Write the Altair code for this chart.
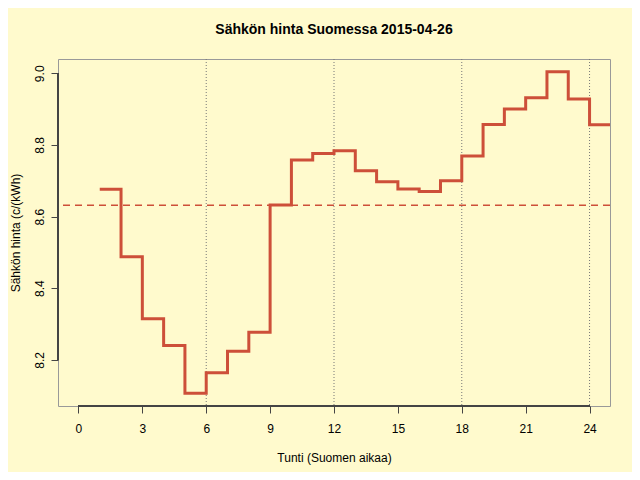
import altair as alt
import pandas as pd

# ---- data ----
HOURS = list(range(1, 25))
PRICES = [8.676, 8.488, 8.315, 8.240, 8.107, 8.164, 8.224, 8.277,
          8.632, 8.758, 8.776, 8.784, 8.728, 8.697, 8.677, 8.670,
          8.700, 8.769, 8.857, 8.900, 8.932, 9.004, 8.928, 8.856]
X_TICKS = [0, 3, 6, 9, 12, 15, 18, 21, 24]
Y_TICKS = [8.2, 8.4, 8.6, 8.8, 9.0]
GUIDE_HOURS = [6, 12, 18, 24]
TITLE = "Sähkön hinta Suomessa 2015-04-26"
X_TITLE = "Tunti (Suomen aikaa)"
Y_TITLE = "Sähkön hinta (c/(kWh)"

FONT = "Liberation Sans"
BG = "#FFFACD"
LINE_COLOR = "#CD4F39"
W, H = 552, 347

hourly = pd.DataFrame({"hour": HOURS, "price": PRICES})
step = pd.DataFrame({"hour": HOURS + [HOURS[-1] + 1],
                     "price": PRICES + [PRICES[-1]]})
guides = pd.DataFrame({"hour": GUIDE_HOURS})

# R-style 4% axis extension
x_lo, x_hi = X_TICKS[0], X_TICKS[-1]
x_pad = 0.04 * (x_hi - x_lo)
y_lo, y_hi = min(PRICES), max(PRICES)
y_pad = 0.04 * (y_hi - y_lo)
x_scale = alt.Scale(domain=[x_lo - x_pad, x_hi + x_pad], nice=False, zero=False)
y_scale = alt.Scale(domain=[y_lo - y_pad, y_hi + y_pad], nice=False, zero=False)

x_axis = alt.Axis(values=X_TICKS, grid=False, domain=False, tickSize=7,
                  tickColor="#444444", tickWidth=1, labelPadding=19,
                  labelBaseline="alphabetic", labelFontSize=12, labelColor="black",
                  labelFont=FONT, labelFlush=False, labelOverlap=False,
                  title=X_TITLE, titleFont=FONT, titleFontSize=12,
                  titleFontWeight="normal", titleColor="black",
                  titleX=W / 2, titleY=55, titleAlign="center",
                  titleBaseline="alphabetic")
y_axis = alt.Axis(values=Y_TICKS, format=".1f", grid=False, domain=False,
                  tickSize=7, tickColor="#444444", tickWidth=1,
                  labelAngle=-90, labelAlign="center", labelBaseline="alphabetic",
                  labelPadding=8, labelFontSize=12, labelColor="black",
                  labelFont=FONT, labelFlush=False, labelOverlap=False,
                  title=Y_TITLE, titleFont=FONT, titleFontSize=12,
                  titleFontWeight="normal", titleColor="black",
                  titleAngle=-90, titleX=-39, titleY=H / 2, titleAlign="center",
                  titleBaseline="alphabetic")

line = alt.Chart(step).mark_line(
    interpolate="step-after", color=LINE_COLOR, strokeWidth=3, clip=True
).encode(
    x=alt.X("hour:Q", scale=x_scale, axis=x_axis),
    y=alt.Y("price:Q", scale=y_scale, axis=y_axis),
)

mean_rule = alt.Chart(hourly).mark_rule(
    color=LINE_COLOR, strokeWidth=1.5, strokeDash=[7, 5]
).encode(y=alt.Y("mean(price):Q"))

vguides = alt.Chart(guides).mark_rule(
    color="#777777", strokeWidth=1, strokeDash=[1, 2]
).encode(x=alt.X("hour:Q"))

x_domain_line = alt.Chart(hourly).mark_rule(color="#444444", strokeWidth=1).encode(
    x=alt.datum(X_TICKS[0]), x2=alt.datum(X_TICKS[-1]), y=alt.value(H))
y_domain_line = alt.Chart(hourly).mark_rule(color="#444444", strokeWidth=1).encode(
    y=alt.datum(Y_TICKS[0]), y2=alt.datum(Y_TICKS[-1]), x=alt.value(0))

chart = alt.layer(vguides, mean_rule, line, x_domain_line, y_domain_line).properties(
    width=W, height=H,
    background=BG,
    padding={"left": 50, "top": 51, "right": 22, "bottom": 66},
    autosize=alt.AutoSizeParams(type="none"),
    title=alt.TitleParams(text=TITLE, font=FONT, fontSize=14, fontWeight="bold",
                          color="black", anchor="middle", baseline="alphabetic",
                          offset=11),
).configure_view(stroke="#999999", strokeWidth=1)

chart.save("out.html", embed_options={"renderer": "svg", "actions": False})
